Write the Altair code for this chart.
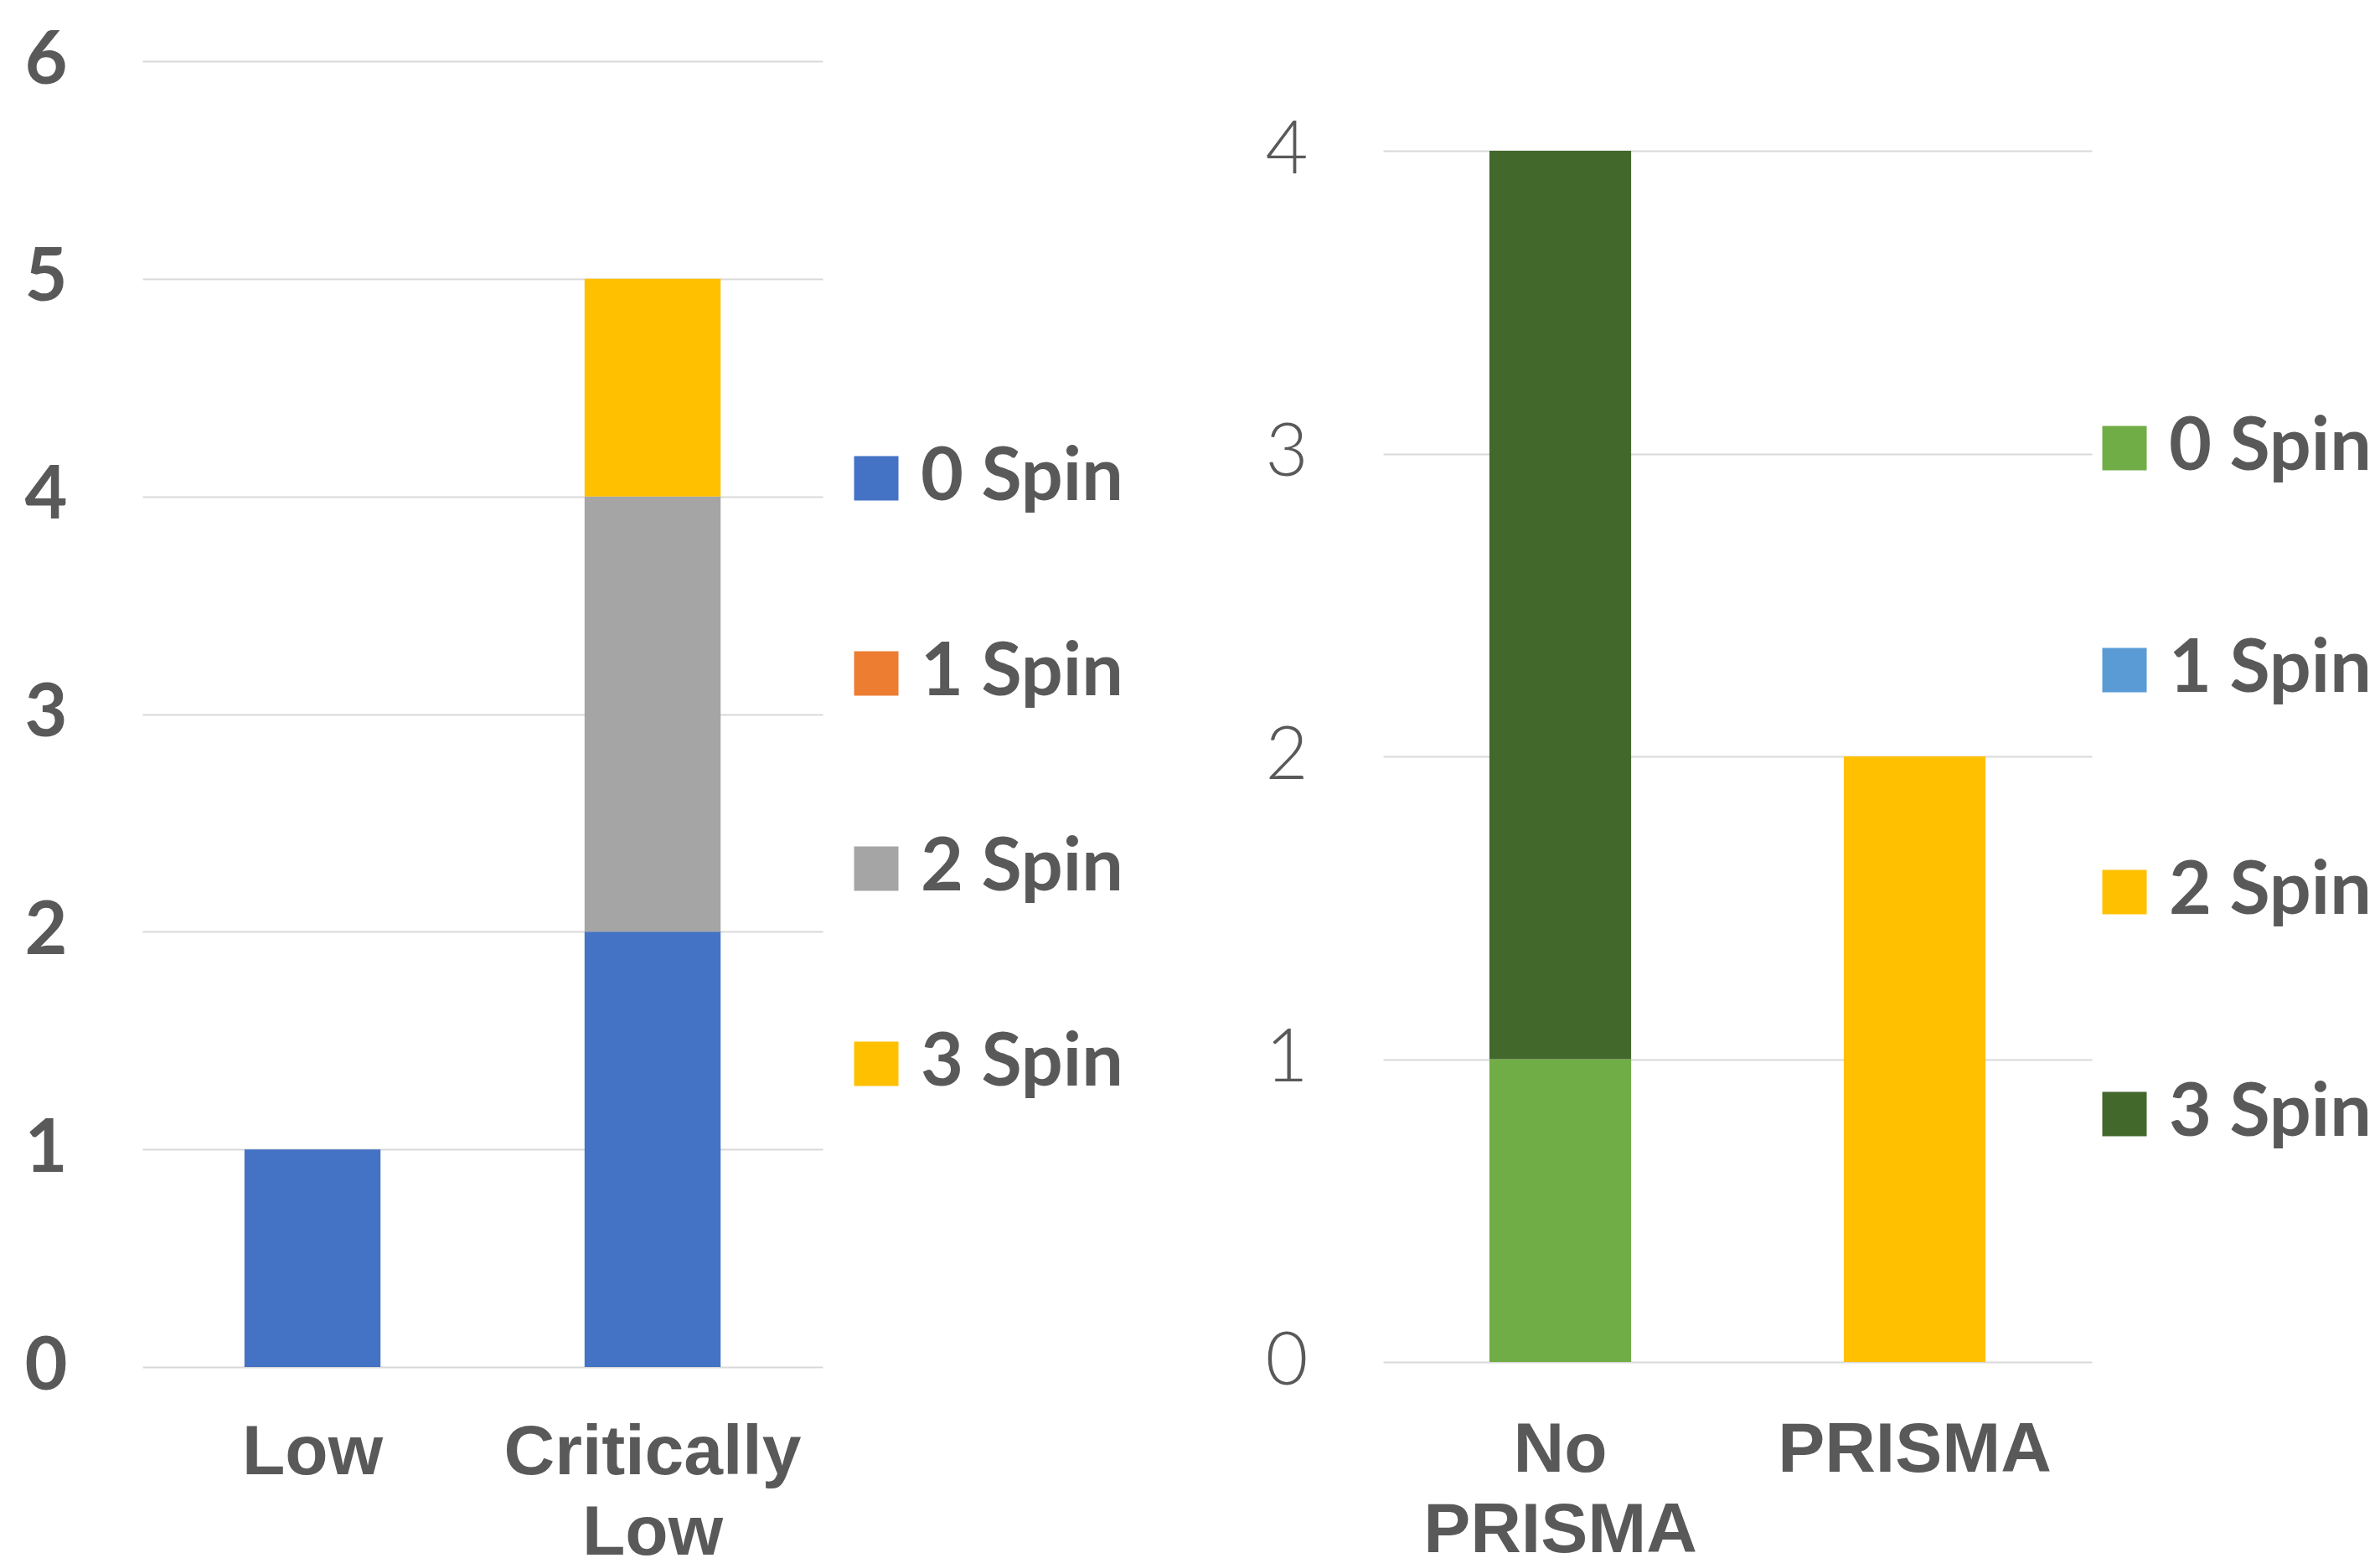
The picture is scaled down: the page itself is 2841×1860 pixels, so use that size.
import altair as alt
import pandas as pd

# ---- data ----
spins = ["0 Spin", "1 Spin", "2 Spin", "3 Spin"]

left_cats = ["Low", "Critically Low"]
left_low = [1, 0, 0, 0]
left_crit = [2, 0, 2, 1]
left_colors = ["#4472C4", "#ED7D31", "#A5A5A5", "#FFC000"]

right_cats = ["No PRISMA", "PRISMA"]
right_no = [1, 0, 0, 3]
right_prisma = [0, 0, 2, 0]
right_colors = ["#70AD47", "#5B9BD5", "#FFC000", "#43682B"]

left_ticks = [0, 1, 2, 3, 4, 5, 6]
right_ticks = [0, 1, 2, 3, 4]


def make_df(cats, series):
    rows = []
    for cat, vals in zip(cats, series):
        for i, (s, v) in enumerate(zip(spins, vals)):
            if v > 0:
                rows.append({"cat": cat, "spin": s, "value": v, "idx": i})
    return pd.DataFrame(rows)


TEXT = "#595959"
GRID = "#D9D9D9"


def panel(df, cats, colors, width, height, ydomain, yvalues, yweight, lx, ly,
          rowpad, xpad):
    return alt.Chart(df).mark_bar().encode(
        x=alt.X(
            "cat:N",
            sort=cats,
            scale=alt.Scale(paddingInner=0.6, paddingOuter=0.3),
            axis=alt.Axis(
                title=None, labelAngle=0,
                labelExpr="split(datum.label, ' ')",
                labelFont="Liberation Sans", labelFontWeight="bold",
                labelFontSize=84, labelColor=TEXT, labelPadding=xpad,
                labelLineHeight=96, labelLimit=600,
                ticks=False, domain=False, grid=False,
            ),
        ),
        y=alt.Y(
            "value:Q",
            stack="zero",
            scale=alt.Scale(domain=ydomain, nice=False, zero=True),
            axis=alt.Axis(
                title=None, values=yvalues, grid=True, gridColor=GRID,
                gridWidth=2, ticks=False, domain=False,
                labelFont="Lato", labelFontWeight=yweight, labelFontSize=88,
                labelColor=TEXT, labelPadding=90, labelLimit=300,
            ),
        ),
        color=alt.Color(
            "spin:N",
            scale=alt.Scale(domain=spins, range=colors),
            legend=alt.Legend(
                title=None, orient="none", legendX=lx, legendY=ly,
                direction="vertical",
                symbolType="square", symbolSize=2809, symbolStrokeWidth=0,
                symbolOpacity=1,
                labelFont="Lato", labelFontWeight="bold", labelFontSize=88,
                labelColor=TEXT, labelOffset=9, labelLimit=600,
                rowPadding=rowpad, padding=0,
            ),
        ),
        order=alt.Order("idx:Q"),
    ).properties(width=width, height=height)


left = panel(make_df(left_cats, [left_low, left_crit]), left_cats, left_colors,
             812, 1559, [0, 6], left_ticks, "bold", 832, 454, 145, 61)
right = panel(make_df(right_cats, [right_no, right_prisma]), right_cats, right_colors,
              846, 1553, [0, 4.296], right_ticks, 300, 841, 418, 177, 64)

chart = alt.hconcat(left, right, spacing=669, bounds="flush").resolve_scale(
    color="independent", x="independent", y="independent"
).properties(
    padding={"left": 20, "top": 21, "right": 0, "bottom": -12},
    background="white",
).configure_view(strokeWidth=0, stroke="transparent")

chart.save("out.html", embed_options={"renderer": "svg", "actions": False})
